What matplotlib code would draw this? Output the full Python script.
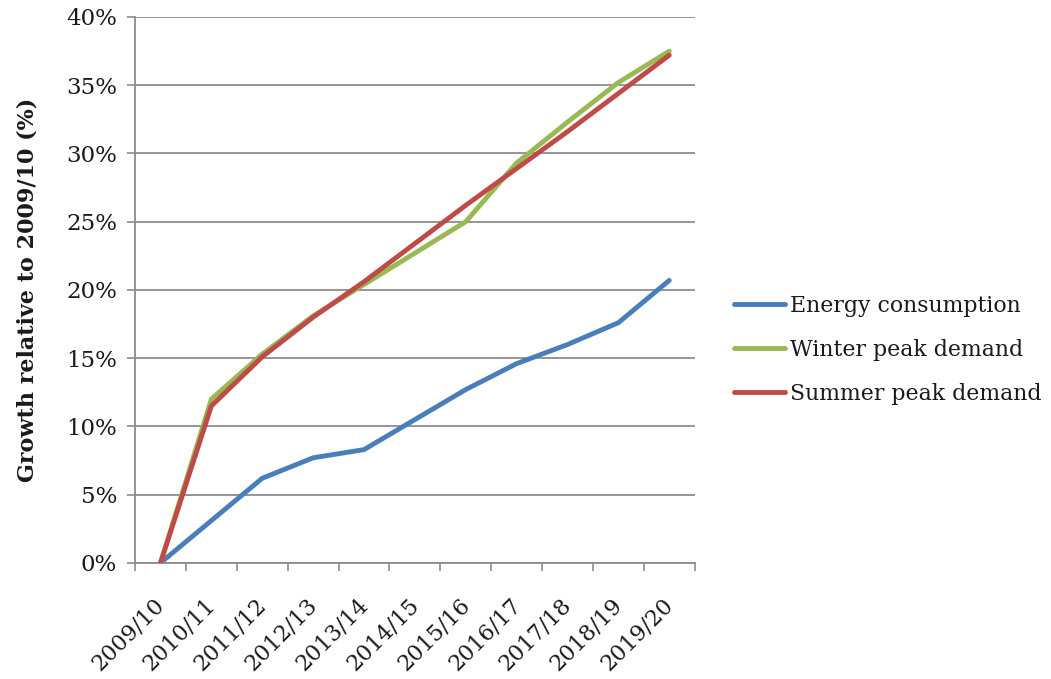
import matplotlib
matplotlib.use("Agg")
import matplotlib.pyplot as plt
import matplotlib.transforms as mtransforms
import numpy as np
from matplotlib.ticker import FixedLocator, FuncFormatter

years = ["2009/10", "2010/11", "2011/12", "2012/13", "2013/14", "2014/15",
         "2015/16", "2016/17", "2017/18", "2018/19", "2019/20"]
energy = [0.0, 3.1, 6.2, 7.7, 8.3, 10.5, 12.7, 14.6, 16.0, 17.6, 20.7]
winter = [0.0, 12.0, 15.3, 18.1, 20.4, 22.7, 25.0, 29.3, 32.3, 35.2, 37.5]
summer = [0.0, 11.5, 15.1, 18.0, 20.6, 23.4, 26.2, 28.9, 31.6, 34.4, 37.2]

series = [
    ("Energy consumption", energy, "#4A7EBB"),
    ("Winter peak demand", winter, "#98B954"),
    ("Summer peak demand", summer, "#BE4B48"),
]

plt.rcParams["font.family"] = ["DejaVu Serif"]

fig = plt.figure(figsize=(10.51, 6.79), dpi=100)
ax = fig.add_axes([0.1285, 0.171, 0.5325, 0.804])

x = np.arange(len(years))
for name, vals, color in series:
    ax.plot(x, vals, color=color, lw=3.5, label=name, solid_capstyle="round",
            solid_joinstyle="round", zorder=3)

ax.set_xlim(-0.5, len(years) - 0.5)
ax.set_ylim(0, 40)

grid_color = "#8c8c8c"
ax.set_yticks(np.arange(0, 41, 5))
ax.yaxis.set_major_formatter(FuncFormatter(lambda v, p: f"{v:.0f}%"))
ax.yaxis.grid(True, color=grid_color, lw=1.3)
ax.set_axisbelow(True)

# ticks sit on category boundaries, labels at category centres
ax.xaxis.set_major_locator(FixedLocator(np.arange(-0.5, len(years), 1.0)))
ax.xaxis.set_major_formatter(FuncFormatter(lambda v, p: ""))
ax.xaxis.set_minor_locator(FixedLocator(x))
ax.set_xticklabels(years, minor=True, rotation=45, ha="right",
                   rotation_mode="anchor", fontsize=16, color="#1a1a1a")
ax.tick_params(axis="x", which="minor", length=0, pad=22)
ax.tick_params(axis="x", which="major", length=6, width=1.2, color=grid_color,
               direction="out")
ax.tick_params(axis="y", length=6, width=1.2, color=grid_color, direction="out",
               labelsize=16.5, labelcolor="#1a1a1a", pad=7)

# nudge the slanted year labels so their ends sit under the category centres
shift = mtransforms.ScaledTranslation(-7 / 100, 0, fig.dpi_scale_trans)
for lbl in ax.get_xticklabels(minor=True):
    lbl.set_transform(lbl.get_transform() + shift)

for side in ("top", "right"):
    ax.spines[side].set_visible(False)
for side in ("left", "bottom"):
    ax.spines[side].set_color(grid_color)
    ax.spines[side].set_linewidth(1.3)

ax.set_ylabel("Growth relative to 2009/10 (%)", fontsize=16, fontweight="bold",
              color="#1a1a1a", labelpad=20)

leg = ax.legend(loc="center left", bbox_to_anchor=(1.055, 0.39), frameon=False,
                fontsize=15.8, handlelength=2.3, handletextpad=0.25,
                labelspacing=1.0, borderaxespad=0)
for t in leg.get_texts():
    t.set_color("#1a1a1a")

fig.savefig("out.png", dpi=100, facecolor="white")
